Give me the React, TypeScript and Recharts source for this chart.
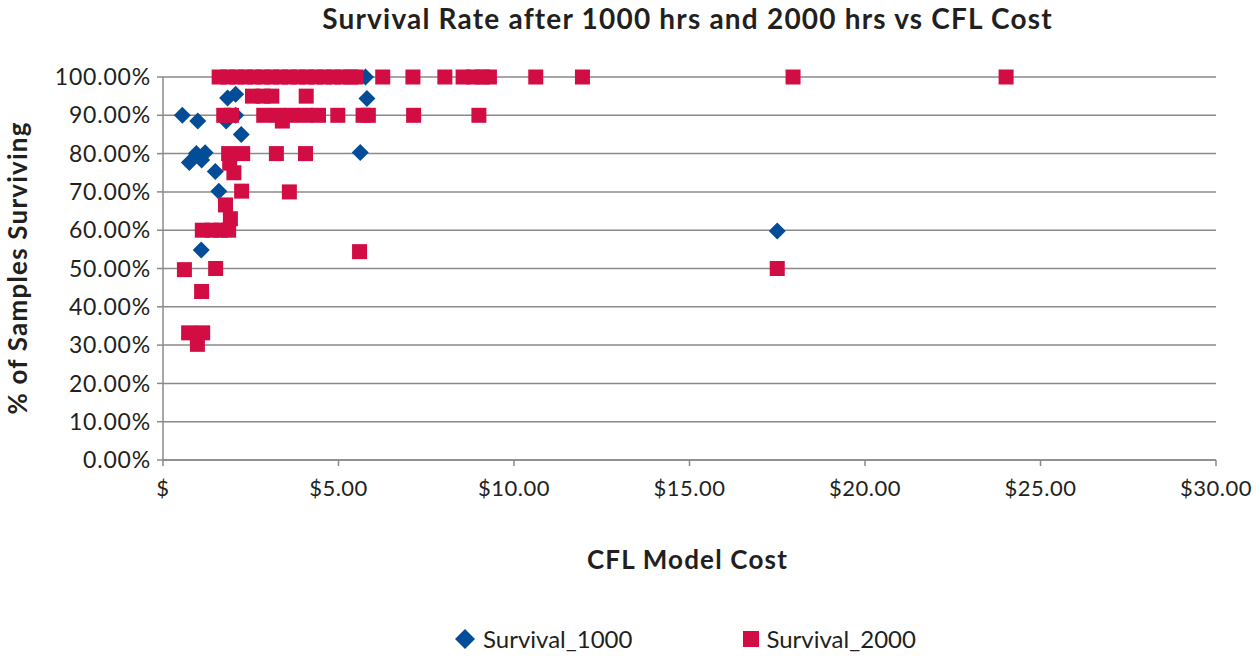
import React from 'react';
import { ScatterChart, Scatter, XAxis, YAxis, CartesianGrid } from 'recharts';

// CFL model cost ($) and share of samples surviving
const cost1000 = [0.55, 0.99, 0.75, 0.95, 1.1, 1.2, 1.49, 1.59, 1.84, 2.07, 1.8, 2.07, 2.23, 1.09, 5.81, 5.77, 5.62, 17.5];
const surv1000 = [0.9, 0.885, 0.777, 0.8, 0.783, 0.802, 0.753, 0.702, 0.945, 0.955, 0.885, 0.9, 0.85, 0.548, 0.944, 1.0, 0.803, 0.598];

const cost2000 = [
  1.6, 1.85, 2.1, 2.35, 2.6, 2.85, 3.1, 3.35, 3.6, 3.85, 4.1, 4.35, 4.6, 4.85, 5.1, 5.35, 5.5,
  6.26, 7.12, 8.03, 8.55, 8.85, 9.1, 9.3, 10.62, 11.95, 17.95, 24.02,
  2.55, 2.85, 3.1, 4.08,
  1.73, 1.95, 2.87, 3.27, 3.66, 4.06, 4.43, 4.98, 5.7, 5.85, 7.14, 9.0, 3.4,
  1.87, 2.27, 3.23, 4.06, 1.9, 2.02,
  2.24, 3.6, 1.78, 1.92,
  1.12, 1.4, 1.64, 1.87,
  5.6, 0.61, 1.5, 17.5, 1.1,
  0.73, 1.13, 0.98,
];
const surv2000 = [
  1, 1, 1, 1, 1, 1, 1, 1, 1, 1, 1, 1, 1, 1, 1, 1, 1,
  1, 1, 1, 1, 1, 1, 1, 1, 1, 1, 1,
  0.95, 0.95, 0.95, 0.95,
  0.9, 0.9, 0.9, 0.9, 0.9, 0.9, 0.9, 0.9, 0.9, 0.9, 0.9, 0.9, 0.885,
  0.8, 0.8, 0.8, 0.8, 0.775, 0.75,
  0.702, 0.7, 0.666, 0.63,
  0.6, 0.6, 0.6, 0.6,
  0.544, 0.497, 0.5, 0.5, 0.44,
  0.332, 0.332, 0.302,
];

const yTicks = [0, 0.1, 0.2, 0.3, 0.4, 0.5, 0.6, 0.7, 0.8, 0.9, 1];
const xTicks = [0, 5, 10, 15, 20, 25, 30];

const data1000 = cost1000.map((c, i) => ({ cost: c, surv: surv1000[i] }));
const data2000 = cost2000.map((c, i) => ({ cost: c, surv: surv2000[i] }));

const BLUE = '#034d98';
const RED = '#d20d44';
const FONT = 'Lato, "Open Sans", sans-serif';
const TEXT = '#231f20';

const Diamond = (props: any) => {
  const { cx, cy } = props;
  const r = 8.5;
  return <polygon points={`${cx},${cy - r} ${cx + r},${cy} ${cx},${cy + r} ${cx - r},${cy}`} fill={BLUE} />;
};

const Square = (props: any) => {
  const { cx, cy } = props;
  return <rect x={cx - 7.5} y={cy - 7.5} width={15} height={15} fill={RED} />;
};

const fmtX = (v: number) => (v === 0 ? '$' : `$${v.toFixed(2)}`);
const fmtY = (v: number) => `${(v * 100).toFixed(2)}%`;

export default function App() {
  return (
    <div style={{ position: 'absolute', left: 0, top: 0, width: 1256, height: 658, background: '#fff', fontFamily: FONT, color: TEXT }}>
      <div style={{ position: 'absolute', left: 0, width: 1375, top: 1, textAlign: 'center', fontWeight: 700, fontSize: 28, letterSpacing: 1.2 }}>
        Survival Rate after 1000 hrs and 2000 hrs vs CFL Cost
      </div>
      <ScatterChart width={1256} height={658} margin={{ top: 77, right: 40, bottom: 168, left: 0 }}>
        <CartesianGrid vertical={false} stroke="#8a8a8a" strokeWidth={1.5} />
        <XAxis
          type="number"
          dataKey="cost"
          domain={[0, 30]}
          ticks={xTicks}
          tickFormatter={fmtX}
          height={30}
          stroke="#8a8a8a"
          strokeWidth={1.5}
          tickSize={6}
          tickMargin={14}
          tick={{ fill: TEXT, fontSize: 22, fontFamily: FONT, letterSpacing: 0.5 }}
        />
        <YAxis
          type="number"
          dataKey="surv"
          domain={[0, 1]}
          ticks={yTicks}
          tickFormatter={fmtY}
          width={163}
          stroke="#8a8a8a"
          strokeWidth={1.5}
          tickSize={6}
          tickMargin={6}
          tick={{ fill: TEXT, fontSize: 23, fontFamily: FONT, letterSpacing: 0.8 }}
        />
        <Scatter name="Survival_1000" data={data1000} shape={Diamond} isAnimationActive={false} />
        <Scatter name="Survival_2000" data={data2000} shape={Square} isAnimationActive={false} />
      </ScatterChart>
      <div style={{ position: 'absolute', left: 17, top: 268, width: 0, height: 0 }}>
        <div style={{ position: 'absolute', transform: 'translate(-50%, -50%) rotate(-90deg)', whiteSpace: 'nowrap', fontWeight: 700, fontSize: 26, letterSpacing: 1.2 }}>
          % of Samples Surviving
        </div>
      </div>
      <div style={{ position: 'absolute', left: 0, width: 1375, top: 543, textAlign: 'center', fontWeight: 700, fontSize: 26, letterSpacing: 1.2 }}>
        CFL Model Cost
      </div>
      <div style={{ position: 'absolute', top: 624, left: 454, fontSize: 24, display: 'flex', alignItems: 'center' }}>
        <svg width={22} height={22} style={{ marginRight: 7 }}>
          <polygon points="11,1 21,11 11,21 1,11" fill={BLUE} />
        </svg>
        <span>Survival_1000</span>
        <svg width={18} height={18} style={{ marginLeft: 110, marginRight: 6 }}>
          <rect x={1} y={1} width={16} height={16} fill={RED} />
        </svg>
        <span>Survival_2000</span>
      </div>
    </div>
  );
}
